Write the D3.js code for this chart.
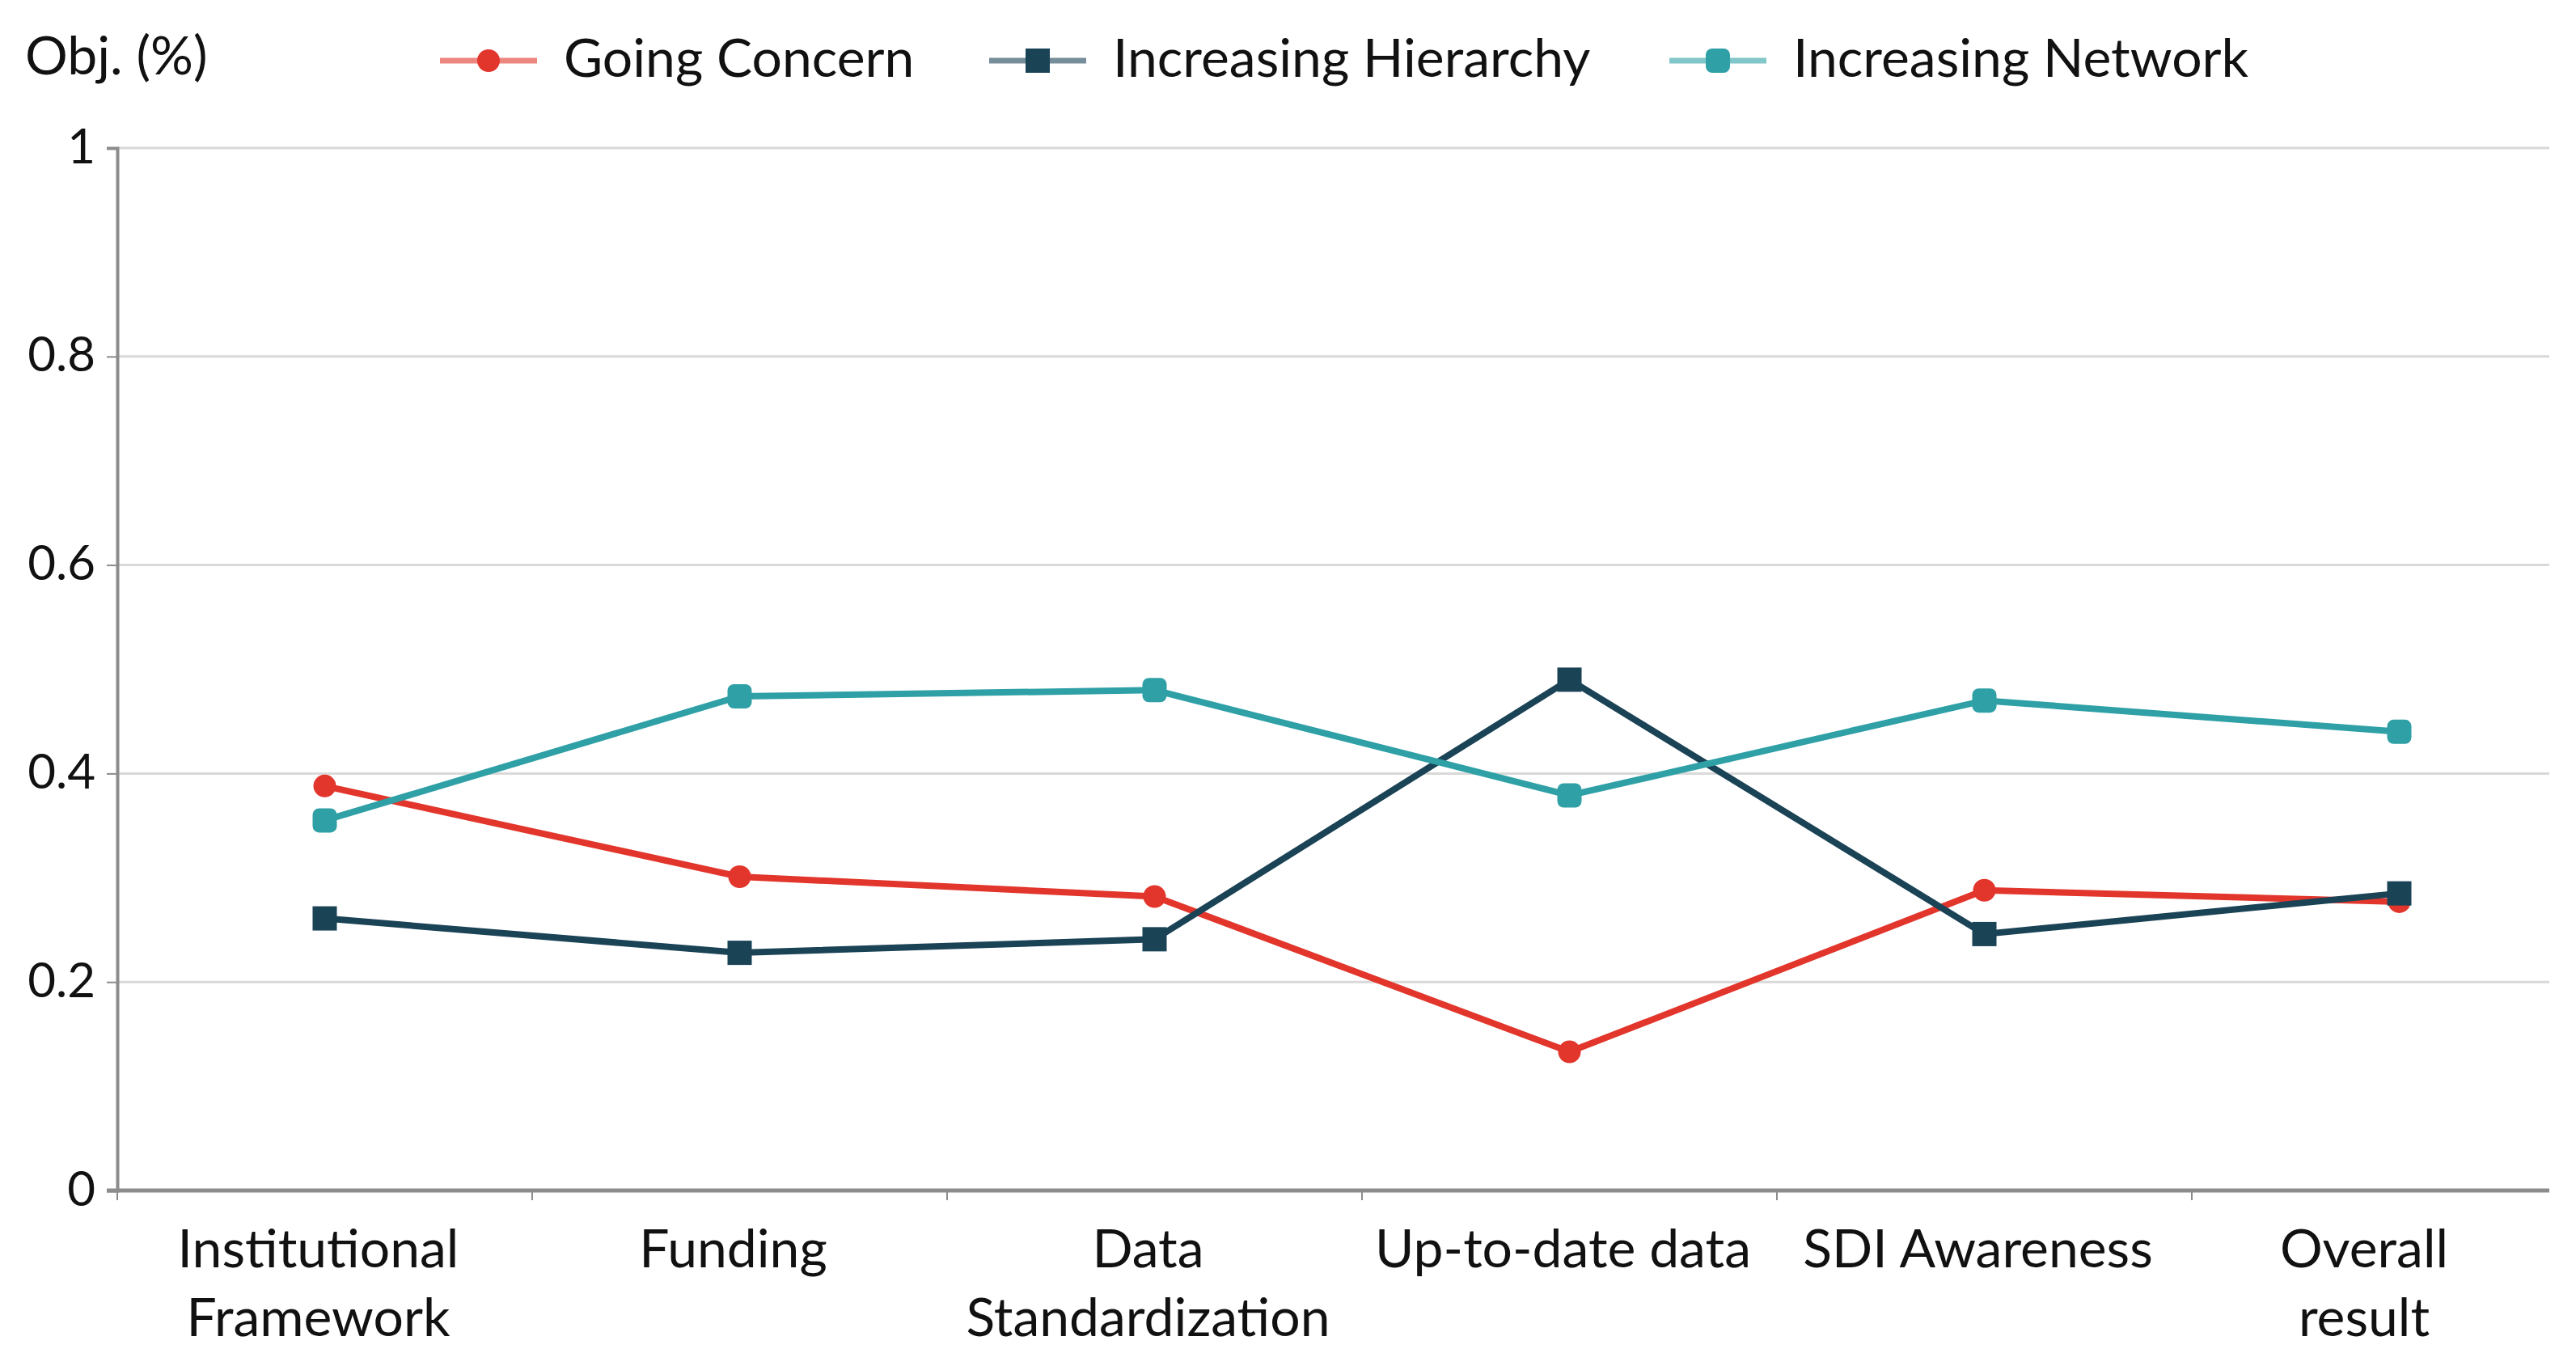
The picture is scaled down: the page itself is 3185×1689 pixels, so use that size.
<!DOCTYPE html>
<html>
<head>
<meta charset="utf-8">
<script src="https://cdn.jsdelivr.net/npm/d3@7"></script>
<style>
  body { margin: 0; background: #fff; }
  text { font-family: Lato, "Open Sans", sans-serif; fill: #111; }
</style>
</head>
<body>
<div id="chart"></div>
<script>
// data
var categories = ["Institutional Framework", "Funding", "Data Standardization", "Up-to-date data", "SDI Awareness", "Overall result"];
var categoryLines = [["Institutional", "Framework"], ["Funding"], ["Data", "Standardization"], ["Up-to-date data"], ["SDI Awareness"], ["Overall", "result"]];
var seriesNames = ["Going Concern", "Increasing Hierarchy", "Increasing Network"];
var goingConcern = [0.388, 0.301, 0.282, 0.133, 0.288, 0.277];
var increasingHierarchy = [0.261, 0.228, 0.241, 0.490, 0.246, 0.285];
var increasingNetwork = [0.355, 0.474, 0.480, 0.379, 0.470, 0.440];
var yTicks = [0, 0.2, 0.4, 0.6, 0.8, 1];

var colors = ["#e2362c", "#1b4356", "#2ea0a6"];
var shapes = ["circle", "square", "roundsquare"];
var allSeries = [goingConcern, increasingHierarchy, increasingNetwork];

var svgWidth = 3185, svgHeight = 1689;
var plotLeft = 145, plotRight = 3152, plotTop = 183, plotBottom = 1472;
var band = 513;

var svg = d3.select("#chart").append("svg")
  .attr("width", svgWidth)
  .attr("height", svgHeight);

var x = d3.scaleBand()
  .domain(categories)
  .range([plotLeft, plotLeft + band * categories.length]);

var y = d3.scaleLinear()
  .domain([0, 1])
  .range([plotBottom, plotTop]);

// gridlines
svg.append("g").selectAll("line")
  .data(yTicks.filter(d => d > 0))
  .enter().append("line")
  .attr("x1", plotLeft).attr("x2", plotRight)
  .attr("y1", d => y(d)).attr("y2", d => y(d))
  .attr("stroke", "#d9d9d9")
  .attr("stroke-width", 3);

// y axis
var yAxis = svg.append("g")
  .attr("transform", `translate(${plotLeft},0)`)
  .call(d3.axisLeft(y).tickValues(yTicks).tickSize(13).tickFormat(d => d3.format("")(d)));
yAxis.select(".domain").attr("stroke", "#8c8c8c").attr("stroke-width", 4);
yAxis.selectAll(".tick line").attr("stroke", "#8c8c8c").attr("stroke-width", 2);
yAxis.selectAll(".tick text")
  .attr("x", -27)
  .attr("dy", "0.3em")
  .attr("font-size", 60)
  .attr("font-family", "'DejaVu Sans', sans-serif")
  .attr("fill", "#111");

// x axis line and boundary ticks
svg.append("line")
  .attr("x1", plotLeft - 13).attr("x2", plotRight)
  .attr("y1", plotBottom).attr("y2", plotBottom)
  .attr("stroke", "#8c8c8c")
  .attr("stroke-width", 5);

svg.append("g").selectAll("line")
  .data(categories)
  .enter().append("line")
  .attr("x1", d => x(d)).attr("x2", d => x(d))
  .attr("y1", plotBottom).attr("y2", plotBottom + 12)
  .attr("stroke", "#8c8c8c")
  .attr("stroke-width", 2);

// category labels
var labels = svg.append("g").selectAll("text")
  .data(categories)
  .enter().append("text")
  .attr("text-anchor", "middle")
  .attr("font-size", 66)
  .attr("x", d => (x(d) + Math.min(x(d) + x.bandwidth(), plotRight)) / 2 - 8)
  .attr("y", 1567);

labels.each(function(d, i) {
  var t = d3.select(this);
  categoryLines[i].forEach(function(line, j) {
    t.append("tspan")
      .attr("x", t.attr("x"))
      .attr("dy", j == 0 ? 0 : 85)
      .text(line);
  });
});

// marker drawing
function drawMarker(g, shape, color, cx, cy) {
  if (shape == "circle") {
    g.append("circle").attr("cx", cx).attr("cy", cy).attr("r", 14).attr("fill", color);
  } else {
    g.append("rect")
      .attr("x", cx - 15).attr("y", cy - 15)
      .attr("width", 30).attr("height", 30)
      .attr("rx", shape == "roundsquare" ? 8 : 0)
      .attr("fill", color);
  }
}

var line = d3.line()
  .x((d, i) => x(categories[i]) + x.bandwidth() / 2)
  .y(d => y(d));

allSeries.forEach(function(values, s) {
  var g = svg.append("g");
  g.append("path")
    .datum(values)
    .attr("d", line)
    .attr("fill", "none")
    .attr("stroke", colors[s])
    .attr("stroke-width", 8);
  values.forEach(function(v, i) {
    drawMarker(g, shapes[s], colors[s], x(categories[i]) + x.bandwidth() / 2, y(v));
  });
});

// title
svg.append("text")
  .attr("x", 31)
  .attr("y", 92)
  .attr("font-size", 66)
  .text("Obj. (%)");

// legend
var legendX = [604, 1283, 2124];
seriesNames.forEach(function(name, s) {
  var g = svg.append("g");
  g.append("line")
    .attr("x1", legendX[s] - 60).attr("x2", legendX[s] + 60)
    .attr("y1", 75).attr("y2", 75)
    .attr("stroke", colors[s])
    .attr("stroke-opacity", 0.6)
    .attr("stroke-width", 7);
  drawMarker(g, shapes[s], colors[s], legendX[s], 75);
  g.append("text")
    .attr("x", legendX[s] + 93)
    .attr("y", 95)
    .attr("font-size", 66)
    .text(name);
});
</script>
</body>
</html>
